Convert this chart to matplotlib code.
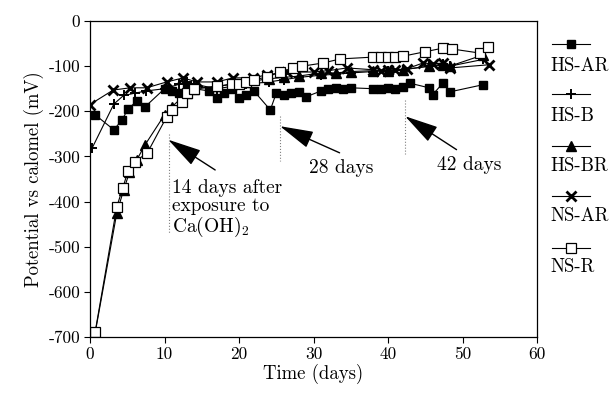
import matplotlib
matplotlib.use("Agg")
import matplotlib.pyplot as plt
from matplotlib.lines import Line2D

plt.rcParams['font.family'] = 'cmr10'
plt.rcParams['mathtext.fontset'] = 'cm'
plt.rcParams['axes.unicode_minus'] = False

# HS-AR (filled squares)
hs_ar_t = [0.7, 3.2, 4.3, 5.1, 6.3, 7.4, 10, 11, 12, 13, 14, 16, 17, 18, 19, 20, 21, 22,
           24.2, 25, 26, 27, 28, 29, 31, 32, 33, 34, 35, 38, 39, 40, 41, 42, 43,
           45.5, 46, 47.4, 48.3, 52.8]
hs_ar_v = [-208, -241, -219, -195, -177, -190, -150, -155, -160, -145, -150, -155, -170, -160, -150, -170, -165, -155,
           -197, -160, -165, -160, -158, -168, -155, -150, -148, -150, -148, -150, -150, -148, -150, -147, -138,
           -148, -163, -137, -157, -141]

# HS-B (plus)
hs_b_t = [0.3, 3.2, 4.5, 6, 7.5, 10, 12, 13, 14, 17, 19, 21, 24, 26, 28, 31, 33, 35,
          38, 40, 42, 45.5, 47.4, 48.3, 52.8]
hs_b_v = [-281, -184, -165, -160, -155, -150, -140, -135, -140, -150, -145, -140, -135, -130, -125, -120, -118, -115,
          -112, -110, -108, -100, -95, -100, -85]

# HS-BR (filled triangles)
hs_br_t = [0.7, 3.6, 4.5, 5.3, 6.3, 7.4, 10, 11, 12.3, 13, 14, 17, 19, 21, 24, 26, 28, 31, 33, 35,
           38, 40, 42, 45.5, 47.4, 48.3, 52.8]
hs_br_v = [-690, -425, -375, -335, -307, -274, -208, -190, -170, -160, -150, -145, -140, -135, -128, -125, -122, -115, -115, -112,
           -110, -110, -108, -100, -98, -100, -75]

# NS-AR (crosses)
ns_ar_t = [0, 3.1, 5.4, 7.6, 10.3, 12.5, 14.3, 17, 19.2, 21.9, 23.8, 26.4, 30, 32, 34.5,
           38, 39, 40, 41, 42.5, 44.7, 46, 47.4, 48.3, 53.5]
ns_ar_v = [-185, -153, -148, -148, -135, -126, -135, -135, -126, -126, -119, -113, -113, -110, -104,
           -108, -110, -108, -108, -106, -93, -95, -93, -104, -97]

# NS-R (open squares)
ns_r_t = [0.7, 3.6, 4.4, 5.1, 6.0, 7.7, 10.3, 11, 12.3, 13, 14, 17, 19, 20, 21, 22,
          23.8, 25.5, 27.3, 28.5, 31.3, 33.6, 38, 39, 40, 41, 42, 45, 47.4, 48.6, 52.3, 53.4]
ns_r_v = [-688, -411, -370, -332, -312, -292, -212, -197, -179, -160, -150, -145, -140, -140, -135, -130,
          -124, -113, -104, -100, -93, -84, -80, -80, -80, -79, -78, -68, -60, -62, -71, -57]

series = [
    ("HS-AR", hs_ar_t, hs_ar_v, dict(marker='s', markersize=6, markerfacecolor='black')),
    ("HS-B", hs_b_t, hs_b_v, dict(marker='+', markersize=7, markeredgewidth=1.4)),
    ("HS-BR", hs_br_t, hs_br_v, dict(marker='^', markersize=6.5, markerfacecolor='black')),
    ("NS-AR", ns_ar_t, ns_ar_v, dict(marker='x', markersize=6.5, markeredgewidth=2)),
    ("NS-R", ns_r_t, ns_r_v, dict(marker='s', markersize=6.5, markerfacecolor='white', markeredgewidth=0.9)),
]

x_ticks = [0, 10, 20, 30, 40, 50, 60]
y_ticks = [0, -100, -200, -300, -400, -500, -600, -700]

fig = plt.figure(figsize=(6.14, 3.94), dpi=100)
ax = fig.add_axes([0.1466, 0.1447, 0.728, 0.802])

for name, t, v, style in series:
    ax.plot(t, v, color='black', linewidth=0.8, markeredgecolor='black', **style)

ax.set_xlim(0, 60)
ax.set_ylim(-700, 0)
ax.set_xticks(x_ticks)
ax.set_xticklabels([str(x) for x in x_ticks])
ax.set_yticks(y_ticks)
ax.set_yticklabels([str(y) for y in y_ticks])
ax.tick_params(direction='out', length=4, width=0.8, labelsize=12.5, colors='black', pad=3)
for s in ax.spines.values():
    s.set_linewidth(0.9)

ax.set_xlabel("Time (days)", fontsize=13.5, labelpad=1)
ax.set_ylabel("Potential vs calomel (mV)", fontsize=13.5, labelpad=3)

# event markers (dotted verticals) and arrows
ax.plot([10.6, 10.6], [-250, -470], linestyle=':', color='gray', linewidth=0.8)
ax.plot([25.5, 25.5], [-210, -310], linestyle=':', color='gray', linewidth=0.8)
ax.plot([42.3, 42.3], [-175, -295], linestyle=':', color='gray', linewidth=0.8)

arrow = dict(arrowstyle='-|>,head_length=1.0,head_width=0.26', mutation_scale=21,
             color='black', linewidth=1.0, shrinkA=0, shrinkB=0)
ax.annotate("", xy=(10.5, -263), xytext=(16.8, -330), arrowprops=arrow)
ax.annotate("", xy=(25.5, -233), xytext=(33.5, -292), arrowprops=arrow)
ax.annotate("", xy=(42.3, -211), xytext=(49.2, -285), arrowprops=arrow)

ax.text(11.0, -350, "14 days after\nexposure to\nCa(OH)$_2$", fontsize=14, va='top', ha='left',
        linespacing=1.0)
ax.text(29.4, -325, "28 days", fontsize=14, va='center', ha='left')
ax.text(46.6, -320, "42 days", fontsize=14, va='center', ha='left')

# legend drawn at the right side
leg_sample_y = [44, 94, 146, 196, 248]
leg_label_y = [66, 116, 166, 216, 267]
W, H = 614, 394
for (name, t, v, style), sy, ly in zip(series, leg_sample_y, leg_label_y):
    fig.add_artist(Line2D([552 / W, 571 / W, 590 / W], [1 - sy / H] * 3, color='black', linewidth=0.8,
                          markeredgecolor='black', markevery=[1], **style))
    fig.text(550 / W, 1 - ly / H, name, fontsize=13.5, va='center', ha='left')

fig.savefig("out.png", dpi=100)
